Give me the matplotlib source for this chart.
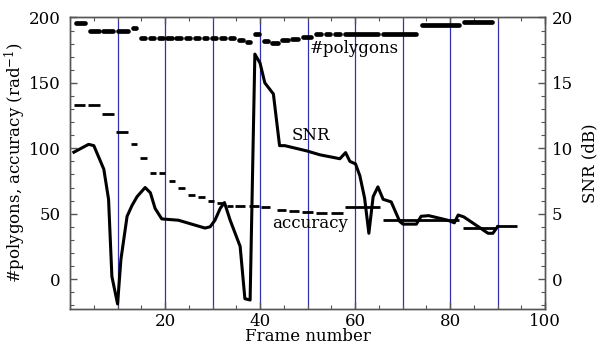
import matplotlib
matplotlib.use("Agg")
import matplotlib.pyplot as plt
from matplotlib.ticker import MultipleLocator

plt.rcParams['font.family'] = ['DejaVu Serif']
plt.rcParams['mathtext.fontset'] = 'dejavuserif'
plt.rcParams['font.size'] = 12

# frames where the blue guide lines sit
guide_frames = [10, 20, 30, 40, 50, 60, 70, 80, 90]
x_ticks = [20, 40, 60, 80, 100]

# #polygons: short segments (start frame, end frame, value)
poly_x0 = [0.8, 3.6, 6.5, 9.5, 12.7,
           14.4, 16.3, 18.2, 20.0, 21.9, 23.8, 25.7, 27.6, 29.4, 31.3, 33.2,
           35.1, 36.8, 38.4, 40.3, 42.1, 44.2, 46.3, 48.5,
           51.2, 53.3, 55.3, 57.4, 65.4, 73.5, 82.4]
poly_x1 = [3.6, 6.5, 9.5, 12.7, 14.4,
           16.3, 18.2, 20.0, 21.9, 23.8, 25.7, 27.6, 29.4, 31.3, 33.2, 35.1,
           36.8, 38.4, 40.3, 42.1, 44.2, 46.3, 48.5, 51.2,
           53.3, 55.3, 57.4, 65.4, 73.4, 82.4, 89.4]
poly_val = [196, 189.7, 189.7, 189.7, 192,
            184.4, 184.4, 184.4, 184.4, 184.4, 184.4, 184.4, 184.4, 184.4, 184.4, 184.4,
            182.5, 181, 187, 182, 180.8, 182.5, 183.8, 185,
            187, 187, 187, 187, 187, 194.5, 196.5]

# accuracy: step segments (start frame, end frame, value)
acc_x0 = [0.9, 3.7, 6.7, 9.7, 12.8, 14.8, 16.9, 18.8, 20.9, 22.8, 24.8, 26.9,
          29.0, 30.9, 33.0, 34.7, 37.7, 40.2, 43.6, 46.1, 48.8, 51.7, 54.9,
          57.8, 65.9, 82.7, 89.7]
acc_x1 = [3.2, 6.2, 9.2, 12.2, 14.1, 16.2, 18.1, 20.0, 22.1, 24.1, 26.2, 28.3,
          30.2, 32.3, 34.4, 36.8, 39.8, 42.1, 45.5, 48.2, 51.1, 54.1, 57.4,
          65.2, 81.8, 89.7, 94.0]
acc_val = [133, 133, 126, 112.8, 103, 92.8, 81.3, 81.3, 75, 69.8, 64.6, 62.5,
           60, 58.2, 56.2, 55.6, 55.5, 55.3, 52.5, 51.8, 51.0, 50.5, 50.5,
           55, 45.5, 38.8, 40.2]

# SNR (dB) per frame
snr_frame = [0.8, 3.9, 5.0, 7.1, 8.1, 8.8, 10.0, 10.7, 12.0, 13.0, 14.1, 15.8,
             16.9, 17.9, 19.3, 22.8, 28.4, 29.5, 30.5, 31.6, 32.5, 33.7, 35.8,
             36.8, 37.9, 38.9, 40.0, 41.0, 42.8, 44.1, 45.2, 49.8, 52.6, 56.8,
             58.0, 58.9, 60.1, 61.0, 62.0, 62.9, 63.8, 64.8, 65.9, 67.6, 69.4,
             70.1, 72.9, 73.9, 75.5, 79.5, 80.9, 81.7, 82.9, 88.0, 89.0, 90.0]
snr_val = [9.7, 10.3, 10.2, 8.4, 6.1, 0.2, -1.9, 1.5, 4.8, 5.6, 6.3, 7.0,
           6.6, 5.4, 4.6, 4.5, 3.9, 4.0, 4.5, 5.4, 5.85, 4.5, 2.5,
           -1.5, -1.6, 17.2, 16.5, 15.0, 14.15, 10.2, 10.2, 9.8, 9.5, 9.2,
           9.67, 9.0, 8.8, 7.9, 6.2, 3.5, 6.3, 7.05, 6.1, 5.9, 4.4,
           4.2, 4.2, 4.8, 4.85, 4.5, 4.3, 4.9, 4.75, 3.5, 3.5, 4.0]

fig = plt.figure(figsize=(5.99, 3.49), dpi=100)
ax = fig.add_axes([0.117, 0.116, 0.793, 0.834])
ax2 = ax.twinx()

for f in guide_frames:
    ax.axvline(f, color='#3030b0', linewidth=0.9, zorder=1)

cap = 0.5
ax.hlines(poly_val, [x + cap for x in poly_x0], [x - cap for x in poly_x1],
          colors='black', linewidth=3.4, capstyle='round', zorder=3)
ax.hlines(acc_val, acc_x0, acc_x1, colors='black', linewidth=2.0, zorder=3)
ax2.plot(snr_frame, snr_val, color='black', linewidth=2.2, solid_joinstyle='round')

ax.set_xlim(0, 100)
ax.set_ylim(-22.5, 200)
ax2.set_ylim(-2.25, 20)

ax.set_xticks(x_ticks)
ax.xaxis.set_minor_locator(MultipleLocator(5))
ax.yaxis.set_major_locator(MultipleLocator(50))
ax.yaxis.set_minor_locator(MultipleLocator(10))
ax2.yaxis.set_major_locator(MultipleLocator(5))
ax2.yaxis.set_minor_locator(MultipleLocator(1))

spine_color = '#555555'
for a in (ax, ax2):
    for s in a.spines.values():
        s.set_color(spine_color)
        s.set_linewidth(1.0)
ax.tick_params(which='both', direction='in', top=True, right=False, color=spine_color)
ax.tick_params(which='major', length=5, width=1, pad=7)
ax.tick_params(which='minor', length=3, width=0.8)
ax.tick_params(axis='x', which='major', pad=3)
ax2.tick_params(which='both', direction='in', color=spine_color)
ax2.tick_params(which='major', length=5, width=1, pad=5)
ax2.tick_params(which='minor', length=3, width=0.8)

ax.set_xlabel("Frame number", labelpad=-1)
ax.set_ylabel("#polygons, accuracy (rad$^{-1}$)", labelpad=0)
ax2.set_ylabel("SNR (dB)", labelpad=6)

ax.text(59.9, 176, "#polygons", ha='center', va='center', fontsize=12)
ax2.text(50.7, 11.0, "SNR", ha='center', va='center', fontsize=12)
ax.text(50.5, 42.3, "accuracy", ha='center', va='center', fontsize=12)

fig.savefig("out.png", dpi=100)
